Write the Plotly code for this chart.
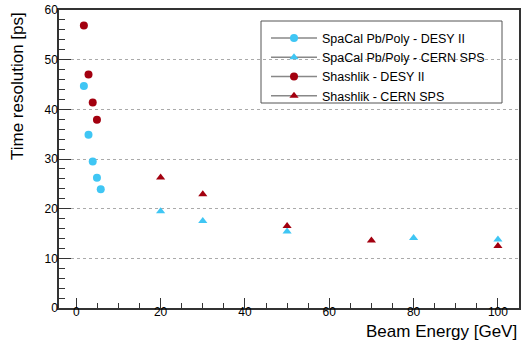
import plotly.graph_objects as go

spacal_desy_x = [1.8, 2.9, 3.9, 4.9, 5.8]
spacal_desy_y = [44.7, 34.9, 29.5, 26.2, 23.9]
spacal_cern_x = [20, 30, 50, 80, 100]
spacal_cern_y = [19.5, 17.5, 15.4, 14.1, 13.8]
shash_desy_x = [1.8, 2.9, 3.9, 4.9]
shash_desy_y = [56.9, 47.0, 41.4, 37.9]
shash_cern_x = [20, 30, 50, 70, 100]
shash_cern_y = [26.3, 22.9, 16.5, 13.6, 12.5]

names = ["SpaCal Pb/Poly - DESY II", "SpaCal Pb/Poly - CERN SPS",
         "Shashlik - DESY II", "Shashlik - CERN SPS"]
CYAN = "#3fc6f4"
RED = "#a3000f"

series = [
    (spacal_desy_x, spacal_desy_y, CYAN, "circle", 8),
    (spacal_cern_x, spacal_cern_y, CYAN, "triangle-up", 8),
    (shash_desy_x, shash_desy_y, RED, "circle", 8),
    (shash_cern_x, shash_cern_y, RED, "triangle-up", 8),
]

fig = go.Figure()
for (x, y, c, sym, sz), name in zip(series, names):
    fig.add_trace(go.Scatter(x=x, y=y, mode="markers", showlegend=False,
                             marker=dict(color=c, symbol=sym, size=sz)))
for (x, y, c, sym, sz), name in zip(series, names):
    fig.add_trace(go.Scatter(x=[None], y=[None], mode="lines+markers", name=name,
                             line=dict(color="#888888", width=1.5),
                             marker=dict(color=c, symbol=sym, size=sz)))

font = "Liberation Sans, Arial, sans-serif"
fig.update_layout(
    width=522, height=340,
    margin=dict(l=59, r=3, t=10, b=32, autoexpand=False),
    paper_bgcolor="white", plot_bgcolor="white",
    font=dict(family=font, color="black", size=12),
    legend=dict(x=0.45, y=0.955, xanchor="left", yanchor="top",
                borderwidth=0, bgcolor="rgba(0,0,0,0)",
                font=dict(size=12.5, family=font), itemwidth=46,
                tracegroupgap=0),
    shapes=[dict(type="rect", xref="paper", yref="paper",
                 x0=(261 - 59) / 460, x1=(502 - 59) / 460,
                 y0=1 - (103 - 10) / 298, y1=1 - (21 - 10) / 298,
                 line=dict(color="#555555", width=1), fillcolor="white", layer="below")],
    xaxis=dict(range=[-4.1, 105], showgrid=False, zeroline=False, automargin=False,
               tickvals=[0, 20, 40, 60, 80, 100], ticks="inside", ticklen=10,
               tickcolor="#333333", tickwidth=1, ticklabelstandoff=-8,
               minor=dict(dtick=5, tick0=0, ticks="inside", ticklen=5, tickcolor="#333333", showgrid=False),
               showline=True, linecolor="#333333", linewidth=1.5, mirror=True,
               tickfont=dict(size=12)),
    yaxis=dict(range=[0, 60], zeroline=False, dtick=10, automargin=False,
               showgrid=True, gridcolor="#aaaaaa", griddash="dot", gridwidth=1,
               ticks="inside", ticklen=12, tickcolor="#333333", tickwidth=1, ticklabelstandoff=-3,
               minor=dict(dtick=2, ticks="inside", ticklen=6, tickcolor="#333333", showgrid=False),
               showline=True, linecolor="#333333", linewidth=1.5, mirror=True,
               tickfont=dict(size=12)),
    annotations=[
        dict(text="Beam Energy [GeV]", xref="paper", yref="paper", x=1.0, y=-0.078,
             xanchor="right", yanchor="middle", showarrow=False, font=dict(size=17)),
        dict(text="Time resolution [ps]", xref="paper", yref="paper",
             x=(17 - 59) / 460, y=1.0,
             xanchor="center", yanchor="top", textangle=-90, showarrow=False,
             font=dict(size=17)),
    ],
)
fig.write_html("out.html", config={"displayModeBar": False},
               post_script="document.body.style.margin='0';document.body.style.overflow='hidden';")
